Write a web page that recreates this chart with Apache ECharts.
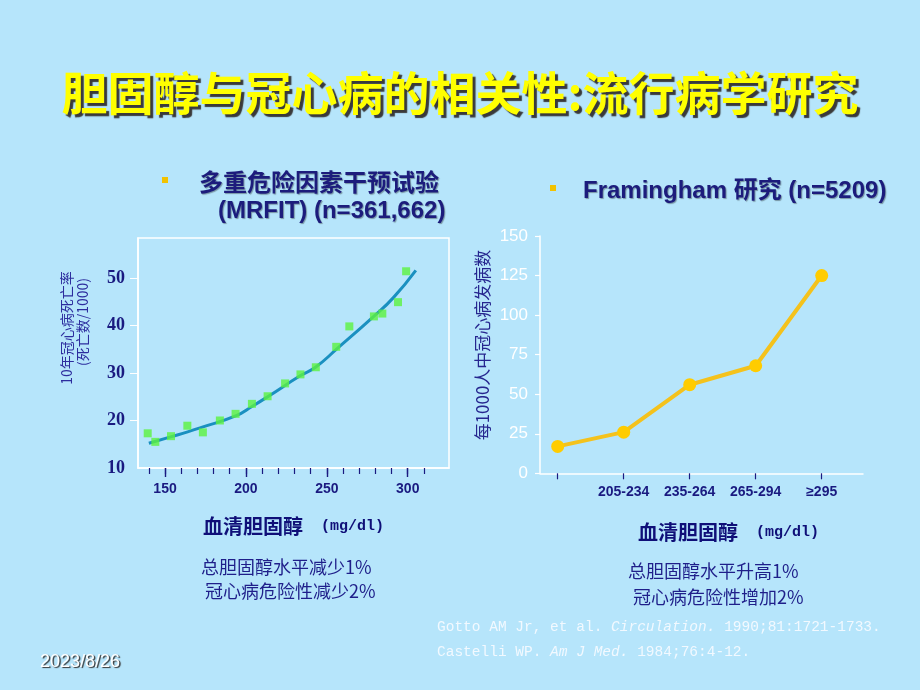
<!DOCTYPE html>
<html>
<head>
<meta charset="utf-8">
<script src="https://cdn.jsdelivr.net/npm/echarts@6/dist/echarts.min.js"></script>
<style>
html,body{margin:0;padding:0;background:#b6e5fb;}
#chart{width:920px;height:690px;}
</style>
</head>
<body>
<div id="chart"></div>
<script>
// ---- Data: MRFIT (left) ----
const mrfitCholesterol = [139.3, 144, 153.7, 163.8, 173.4, 183.9, 193.6, 203.7, 213.4, 224.2, 233.7, 243.2, 255.8, 263.9, 279.1, 284.3, 294.0, 299.0];
const mrfitDeathRate   = [17.3, 15.5, 16.7, 18.9, 17.5, 20.0, 21.4, 23.5, 25.1, 27.8, 29.7, 31.2, 35.5, 39.8, 41.9, 42.5, 44.9, 51.4];
const fitCholesterol   = [140, 154, 164, 173, 194, 204, 213, 234, 243, 256, 279, 291, 305];
const fitDeathRate     = [15.2, 16.6, 17.6, 18.6, 21.0, 23.0, 24.9, 29.5, 31.2, 35.0, 41.9, 45.8, 51.6];
const leftXLabels      = [150, 200, 250, 300];
const leftXTicks       = [140, 150, 160, 170, 180, 190, 200, 210, 220, 230, 240, 250, 260, 270, 280, 290, 300, 310];
const leftYLabels      = [10, 20, 30, 40, 50];
const leftYTicks       = [20, 30, 40, 50];

// ---- Data: Framingham (right) ----
const framCategories   = ['', '205-234', '235-264', '265-294', '≥295'];
const framIncidence    = [17, 26, 56, 68, 125];

const navy = '#1a1a80';
const narrow = "'Liberation Sans Narrow', 'Liberation Sans', Arial, sans-serif";
const cjk = "'Noto Sans CJK SC', sans-serif";

function shadowed(color, dx, dy) {
  return { textShadowColor: color, textShadowOffsetX: dx, textShadowOffsetY: dy, textShadowBlur: 1,
           shadowColor: color, shadowOffsetX: dx, shadowOffsetY: dy, shadowBlur: 1 };
}

const chart = echarts.init(document.getElementById('chart'));

const option = {
  backgroundColor: '#b6e5fb',
  animation: false,
  grid: [
    { left: 138, top: 238, width: 311, height: 230, show: true, borderColor: '#ffffff', borderWidth: 1.5, backgroundColor: 'transparent' },
    { left: 557.7, top: 236, width: 264, height: 237.3 },
    { left: 540, top: 236, width: 323, height: 237.3 }
  ],
  xAxis: [
    {
      gridIndex: 0, type: 'value', min: 133.3, max: 325.5,
      axisLine: { show: true, lineStyle: { color: '#ffffff', width: 1.5 } },
      splitLine: { show: false },
      axisTick: { show: true, length: 6, customValues: leftXTicks, lineStyle: { color: navy, width: 1.2 } },
      axisLabel: { customValues: leftXLabels, color: navy, fontFamily: narrow, fontWeight: 'bold', fontSize: 14, margin: 14 }
    },
    {
      gridIndex: 0, type: 'value', min: 133.3, max: 325.5, position: 'bottom',
      axisLine: { show: false },
      splitLine: { show: false },
      axisTick: { show: true, length: 9, customValues: leftXLabels, lineStyle: { color: navy, width: 1.4 } },
      axisLabel: { show: false }
    },
    {
      gridIndex: 1, type: 'category', boundaryGap: false, data: framCategories,
      axisLine: { show: false },
      axisTick: { show: true, interval: 0, length: 6, lineStyle: { color: navy, width: 1.2 } },
      axisLabel: { interval: 0, color: navy, fontFamily: narrow, fontWeight: 'bold', fontSize: 14, margin: 12 }
    },
    {
      gridIndex: 2, type: 'value', min: 0, max: 1,
      axisLine: { show: true, lineStyle: { color: '#ffffff', width: 1.5 } },
      axisTick: { show: false }, axisLabel: { show: false }, splitLine: { show: false }
    }
  ],
  yAxis: [
    {
      gridIndex: 0, type: 'value', min: 10, max: 58.4,
      axisLine: { show: true, lineStyle: { color: '#ffffff', width: 1.5 } },
      splitLine: { show: false },
      axisTick: { show: true, length: 8, customValues: leftYTicks, lineStyle: { color: '#ffffff', width: 1 } },
      axisLabel: { customValues: leftYLabels, color: navy, fontFamily: "'Liberation Serif', serif", fontWeight: 'bold', fontSize: 18, margin: 13 }
    },
    {
      gridIndex: 1, type: 'value', min: 0, max: 150, interval: 25, offset: 17.7,
      axisLine: { show: true, lineStyle: { color: '#ffffff', width: 1.5 } },
      splitLine: { show: false },
      axisTick: { show: true, length: 5, lineStyle: { color: '#ffffff', width: 1.2 } },
      axisLabel: { color: '#ffffff', fontFamily: narrow, fontSize: 17, margin: 12 }
    },
    { gridIndex: 2, type: 'value', min: 0, max: 1, show: false }
  ],
  series: [
    {
      type: 'line', xAxisIndex: 0, yAxisIndex: 0, smooth: true, showSymbol: false, z: 2,
      data: fitCholesterol.map((x, i) => [x, fitDeathRate[i]]),
      lineStyle: { color: '#1a90c0', width: 3 }
    },
    {
      type: 'scatter', xAxisIndex: 0, yAxisIndex: 0, symbol: 'rect', symbolSize: 8, z: 3,
      data: mrfitCholesterol.map((x, i) => [x, mrfitDeathRate[i]]),
      itemStyle: { color: '#5df23f' }
    },
    {
      type: 'line', xAxisIndex: 2, yAxisIndex: 1, symbol: 'circle', symbolSize: 13,
      data: framIncidence,
      lineStyle: { color: '#f4c21c', width: 4 },
      itemStyle: { color: '#ffcc00' }
    }
  ],
  graphic: [
    { type: 'text', left: 'center', top: 70, style: Object.assign({
        text: '胆固醇与冠心病的相关性:流行病学研究', font: 'bold 46px ' + cjk, fill: '#ffff00' }, shadowed('#3a3a3a', 3, 3)) },
    { type: 'rect', shape: { x: 162, y: 177, width: 6, height: 6 }, style: { fill: '#f2c200' } },
    { type: 'text', x: 199, y: 182, style: Object.assign({
        text: '多重危险因素干预试验', font: 'bold 24px ' + cjk, fill: '#1c1c7c', verticalAlign: 'middle' }, shadowed('rgba(0,0,0,0.35)', 1, 1)) },
    { type: 'text', x: 218, y: 211, style: Object.assign({
        text: '(MRFIT) (n=361,662)', font: "bold 24px 'Liberation Sans', Arial, sans-serif", fill: '#1c1c7c', verticalAlign: 'middle' }, shadowed('rgba(0,0,0,0.35)', 1, 1)) },
    { type: 'rect', shape: { x: 550, y: 185, width: 6, height: 6 }, style: { fill: '#f2c200' } },
    { type: 'text', x: 583, y: 191, style: Object.assign({
        text: 'Framingham 研究 (n=5209)', font: "bold 24px 'Liberation Sans', 'Noto Sans CJK SC', sans-serif", fill: '#1c1c7c', verticalAlign: 'middle' }, shadowed('rgba(0,0,0,0.35)', 1, 1)) },
    { type: 'text', x: 67, y: 328, rotation: Math.PI / 2, style: {
        text: '10年冠心病死亡率', font: '14px ' + cjk, fill: '#2d2d9e', align: 'center', verticalAlign: 'middle' } },
    { type: 'text', x: 83, y: 322, rotation: Math.PI / 2, style: {
        text: '(死亡数/1000)', font: '14px ' + cjk, fill: '#2d2d9e', align: 'center', verticalAlign: 'middle' } },
    { type: 'text', x: 483, y: 345, rotation: Math.PI / 2, style: {
        text: '每1000人中冠心病发病数', font: '17px ' + cjk, fill: '#26268f', align: 'center', verticalAlign: 'middle' } },
    { type: 'text', x: 203, y: 526, style: {
        text: '{a|血清胆固醇}{b|  (mg/dl)}', verticalAlign: 'middle',
        rich: { a: { font: 'bold 20px ' + cjk, fill: '#0f0f78' }, b: { font: "bold 15px 'Liberation Mono', monospace", fill: '#0f0f78' } } } },
    { type: 'text', x: 638, y: 532, style: {
        text: '{a|血清胆固醇}{b|  (mg/dl)}', verticalAlign: 'middle',
        rich: { a: { font: 'bold 20px ' + cjk, fill: '#0f0f78' }, b: { font: "bold 15px 'Liberation Mono', monospace", fill: '#0f0f78' } } } },
    { type: 'text', x: 201, y: 567, style: { text: '总胆固醇水平减少1%', font: '18px ' + cjk, fill: '#1f1f8a', verticalAlign: 'middle' } },
    { type: 'text', x: 205, y: 591, style: { text: '冠心病危险性减少2%', font: '18px ' + cjk, fill: '#1f1f8a', verticalAlign: 'middle' } },
    { type: 'text', x: 628, y: 571, style: { text: '总胆固醇水平升高1%', font: '18px ' + cjk, fill: '#1f1f8a', verticalAlign: 'middle' } },
    { type: 'text', x: 633, y: 597, style: { text: '冠心病危险性增加2%', font: '18px ' + cjk, fill: '#1f1f8a', verticalAlign: 'middle' } },
    { type: 'text', x: 437, y: 627, style: {
        text: '{r|Gotto AM Jr, et al. }{i|Circulation.}{r| 1990;81:1721-1733.}', verticalAlign: 'middle',
        rich: { r: { font: "14.5px 'Liberation Mono', monospace", fill: '#f2f9ff' }, i: { font: "italic 14.5px 'Liberation Mono', monospace", fill: '#f2f9ff' } } } },
    { type: 'text', x: 437, y: 652, style: {
        text: '{r|Castelli WP. }{i|Am J Med.}{r| 1984;76:4-12.}', verticalAlign: 'middle',
        rich: { r: { font: "14.5px 'Liberation Mono', monospace", fill: '#f2f9ff' }, i: { font: "italic 14.5px 'Liberation Mono', monospace", fill: '#f2f9ff' } } } },
    { type: 'text', x: 40, y: 662, style: Object.assign({
        text: '2023/8/26', font: "18px 'Liberation Sans', Arial, sans-serif", fill: '#ffffff', verticalAlign: 'middle' }, shadowed('#333333', 1.5, 1.5)) }
  ]
};
chart.setOption(option);
</script>
</body>
</html>
